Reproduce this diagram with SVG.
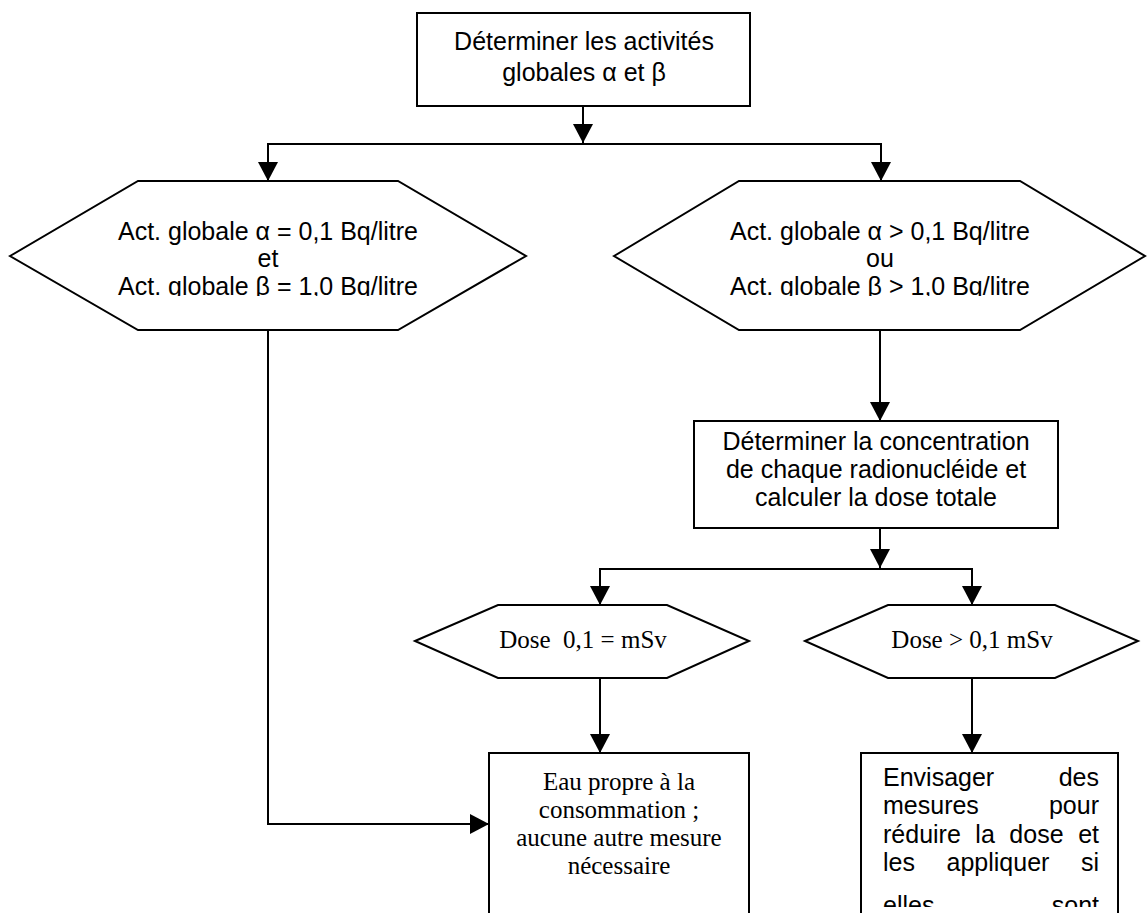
<svg xmlns="http://www.w3.org/2000/svg" width="1147" height="913" viewBox="0 0 1147 913">
<style>
.shape{fill:#fff;stroke:#000;stroke-width:2}
.conn{fill:none;stroke:#000;stroke-width:2}
.sans{font-family:"Liberation Sans",Arial,sans-serif;font-size:25px;fill:#000}
.serif{font-family:"Liberation Serif","Times New Roman",serif;font-size:25px;fill:#000}
.mid{text-anchor:middle}
</style>
<defs>
<marker id="arr" markerUnits="userSpaceOnUse" markerWidth="20" markerHeight="20" refX="19" refY="10" orient="auto">
<path d="M0,0 L19,10 L0,20 Z" fill="#000"/>
</marker>
<clipPath id="clipL"><rect x="0" y="180" width="540" height="116"/></clipPath>
<clipPath id="clipR"><rect x="600" y="180" width="547" height="116"/></clipPath>
<clipPath id="clipB"><rect x="862" y="754" width="255" height="153"/></clipPath>
</defs>
<rect width="1147" height="913" fill="#fff"/>

<g id="connectors">
<line class="conn" x1="583" y1="106" x2="583" y2="143" marker-end="url(#arr)"/>
<line class="conn" x1="267" y1="144" x2="882" y2="144"/>
<line class="conn" x1="268" y1="143" x2="268" y2="181" marker-end="url(#arr)"/>
<line class="conn" x1="881" y1="143" x2="881" y2="181" marker-end="url(#arr)"/>
<line class="conn" x1="880" y1="330" x2="880" y2="421" marker-end="url(#arr)"/>
<line class="conn" x1="880" y1="528" x2="880" y2="568" marker-end="url(#arr)"/>
<line class="conn" x1="600" y1="569" x2="972" y2="569"/>
<line class="conn" x1="600" y1="568" x2="600" y2="605" marker-end="url(#arr)"/>
<line class="conn" x1="972" y1="568" x2="972" y2="605" marker-end="url(#arr)"/>
<line class="conn" x1="600" y1="678" x2="600" y2="753" marker-end="url(#arr)"/>
<line class="conn" x1="972" y1="678" x2="972" y2="753" marker-end="url(#arr)"/>
<polyline class="conn" points="268,330 268,824 489,824" marker-end="url(#arr)"/>
</g>

<g id="start">
<rect class="shape" x="417" y="13" width="333" height="93"/>
<text class="sans mid" x="584" y="50">Déterminer les activités</text>
<text class="sans mid" x="584" y="81">globales α et β</text>
</g>

<g id="hexLeft">
<polygon class="shape" points="10,256 138,181 398,181 526,256 398,330 138,330"/>
<g clip-path="url(#clipL)">
<text class="sans mid" x="268" y="240">Act. globale α = 0,1 Bq/litre</text>
<text class="sans mid" x="268" y="267">et</text>
<text class="sans mid" x="268" y="295">Act. globale β = 1,0 Bq/litre</text>
</g>
</g>

<g id="hexRight">
<polygon class="shape" points="614,256 739,181 1020,181 1145,256 1020,330 739,330"/>
<g clip-path="url(#clipR)">
<text class="sans mid" x="880" y="240">Act. globale α &gt; 0,1 Bq/litre</text>
<text class="sans mid" x="880" y="267">ou</text>
<text class="sans mid" x="880" y="295">Act. globale β &gt; 1,0 Bq/litre</text>
</g>
</g>

<g id="concentration">
<rect class="shape" x="694" y="421" width="364" height="107"/>
<text class="sans mid" x="876" y="450">Déterminer la concentration</text>
<text class="sans mid" x="876" y="478">de chaque radionucléide et</text>
<text class="sans mid" x="876" y="506">calculer la dose totale</text>
</g>

<g id="doseLow">
<polygon class="shape" points="415,641 498,605 667,605 749,641 667,678 498,678"/>
<text class="serif mid" x="583" y="648" xml:space="preserve">Dose  0,1 = mSv</text>
</g>

<g id="doseHigh">
<polygon class="shape" points="805,641 888,605 1055,605 1138,641 1055,678 888,678"/>
<text class="serif mid" x="972" y="648">Dose &gt; 0,1 mSv</text>
</g>

<g id="potable">
<rect class="shape" x="489" y="753" width="260" height="180"/>
<text class="serif mid" x="619" y="790">Eau propre à la</text>
<text class="serif mid" x="619" y="818">consommation ;</text>
<text class="serif mid" x="619" y="846">aucune autre mesure</text>
<text class="serif mid" x="619" y="874">nécessaire</text>
</g>

<g id="measures">
<rect class="shape" x="861" y="753" width="257" height="180"/>
<g clip-path="url(#clipB)">
<text class="sans" x="883" y="786">Envisager</text>
<text class="sans" x="1099" y="786" text-anchor="end">des</text>
<text class="sans" x="883" y="814">mesures</text>
<text class="sans" x="1099" y="814" text-anchor="end">pour</text>
<text class="sans" x="883" y="843" word-spacing="7.6">réduire la dose et</text>
<text class="sans" x="883" y="871" word-spacing="24.6">les appliquer si</text>
<text class="sans" x="883" y="914">elles</text>
<text class="sans" x="1099" y="914" text-anchor="end">sont</text>
</g>
</g>
</svg>
